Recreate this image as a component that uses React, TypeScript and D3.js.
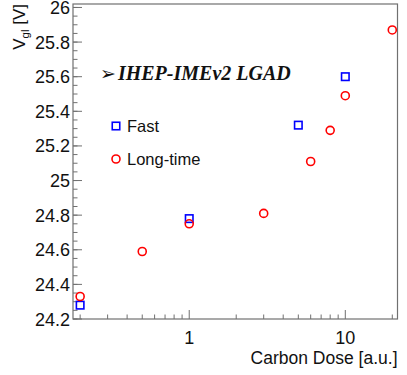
import React, { Component } from "react";
import * as d3 from "d3";

// Fast annealing points
const fastDose = [0.2, 1, 5, 10];
const fastVgl = [24.28, 24.78, 25.32, 25.6];

// Long-time annealing points
const longDose = [0.2, 0.5, 1, 3, 6, 8, 10, 20];
const longVgl = [24.33, 24.59, 24.75, 24.81, 25.11, 25.29, 25.49, 25.87];

const yTicks = [24.2, 24.4, 24.6, 24.8, 25, 25.2, 25.4, 25.6, 25.8, 26];
const xTickLabels = [1, 10];

const seriesNames = ["Fast", "Long-time"];
const chartTitle = "IHEP-IMEv2 LGAD";

export class App extends Component {
  node: SVGSVGElement | null = null;

  componentDidMount() {
    this.drawChart();
  }

  drawChart = () => {
    const svgWidth = 407;
    const svgHeight = 375;
    const margin = { top: 4, right: 9.5, bottom: 56, left: 73 };
    const width = svgWidth - margin.left - margin.right;
    const height = svgHeight - margin.top - margin.bottom;
    const axisColor = "#707070";
    const font = "'Liberation Sans', Arial, Helvetica, sans-serif";

    const svg = d3.select(this.node);
    svg.selectAll("*").remove();

    const x = d3.scaleLog().domain([0.18, 21.6]).range([0, width]);
    const y = d3.scaleLinear().domain([24.2, 26.02]).range([height, 0]);

    const g = svg
      .append("g")
      .attr("transform", "translate(" + margin.left + "," + margin.top + ")");

    // frame
    g.append("rect")
      .attr("x", 0)
      .attr("y", 0)
      .attr("width", width)
      .attr("height", height)
      .attr("fill", "none")
      .attr("stroke", axisColor)
      .attr("stroke-width", 1.2);

    // y ticks, major and minor
    const yMinor = d3.range(24.2, 26.01, 0.05);
    g.selectAll(".ymin")
      .data(yMinor)
      .enter()
      .append("line")
      .attr("x1", 0)
      .attr("x2", 4.5)
      .attr("y1", d => y(d))
      .attr("y2", d => y(d))
      .attr("stroke", axisColor);
    g.selectAll(".ymaj")
      .data(yTicks)
      .enter()
      .append("line")
      .attr("x1", 0)
      .attr("x2", 9)
      .attr("y1", d => y(d))
      .attr("y2", d => y(d))
      .attr("stroke", axisColor);
    g.selectAll(".ylab")
      .data(yTicks)
      .enter()
      .append("text")
      .attr("x", -3)
      .attr("y", d => y(d) + 6.5)
      .attr("text-anchor", "end")
      .attr("font-family", font)
      .attr("font-size", 18)
      .attr("fill", "#111")
      .text(d => d3.format("")(+d.toFixed(1)));

    // x ticks on the log axis
    const xMinor = [0.2, 0.3, 0.4, 0.5, 0.6, 0.7, 0.8, 0.9, 2, 3, 4, 5, 6, 7, 8, 9, 20];
    g.selectAll(".xmin")
      .data(xMinor)
      .enter()
      .append("line")
      .attr("x1", d => x(d))
      .attr("x2", d => x(d))
      .attr("y1", height)
      .attr("y2", height - 4.5)
      .attr("stroke", axisColor);
    g.selectAll(".xmaj")
      .data(xTickLabels)
      .enter()
      .append("line")
      .attr("x1", d => x(d))
      .attr("x2", d => x(d))
      .attr("y1", height)
      .attr("y2", height - 9)
      .attr("stroke", axisColor);
    g.selectAll(".xlab")
      .data(xTickLabels)
      .enter()
      .append("text")
      .attr("x", d => x(d))
      .attr("y", height + 25)
      .attr("text-anchor", "middle")
      .attr("font-family", font)
      .attr("font-size", 18)
      .attr("fill", "#111")
      .text(d => d);

    // axis titles
    g.append("text")
      .attr("x", width)
      .attr("y", height + 45)
      .attr("text-anchor", "end")
      .attr("font-family", font)
      .attr("font-size", 17.5)
      .attr("fill", "#111")
      .text("Carbon Dose [a.u.]");

    const yt = svg
      .append("text")
      .attr("transform", "translate(25,4) rotate(-90)")
      .attr("text-anchor", "end")
      .attr("font-family", font)
      .attr("font-size", 17)
      .attr("fill", "#111");
    yt.append("tspan").text("V");
    yt.append("tspan").attr("dy", 4).attr("font-size", 11.5).text("gl");
    yt.append("tspan").attr("dy", -4).text(" [V]");

    // title
    const tt = g
      .append("text")
      .attr("x", 27)
      .attr("y", 76)
      .attr("font-family", "'Liberation Serif', 'Times New Roman', serif")
      .attr("font-size", 20)
      .attr("font-weight", "bold")
      .attr("font-style", "italic")
      .attr("fill", "#111");
    tt.append("tspan")
      .attr("font-family", "'DejaVu Sans', sans-serif")
      .attr("font-style", "normal")
      .attr("font-weight", "normal")
      .attr("font-size", 19)
      .text("\u27A2");
    tt.append("tspan").attr("dx", 2).text(chartTitle);

    // data markers
    const sq = 7.5;
    g.selectAll(".fast")
      .data(fastDose)
      .enter()
      .append("rect")
      .attr("x", d => x(d) - sq / 2)
      .attr("y", (d, i) => y(fastVgl[i]) - sq / 2)
      .attr("width", sq)
      .attr("height", sq)
      .attr("fill", "none")
      .attr("stroke", "#0000ff")
      .attr("stroke-width", 1.6);

    g.selectAll(".long")
      .data(longDose)
      .enter()
      .append("circle")
      .attr("cx", d => x(d))
      .attr("cy", (d, i) => y(longVgl[i]))
      .attr("r", 4)
      .attr("fill", "none")
      .attr("stroke", "#ff0000")
      .attr("stroke-width", 1.6);

    // legend
    const legX = 43;
    const legY = [122, 155];
    g.append("rect")
      .attr("x", legX - sq / 2)
      .attr("y", legY[0] - sq / 2)
      .attr("width", sq)
      .attr("height", sq)
      .attr("fill", "none")
      .attr("stroke", "#0000ff")
      .attr("stroke-width", 1.6);
    g.append("circle")
      .attr("cx", legX)
      .attr("cy", legY[1])
      .attr("r", 4)
      .attr("fill", "none")
      .attr("stroke", "#ff0000")
      .attr("stroke-width", 1.6);
    g.selectAll(".leg")
      .data(seriesNames)
      .enter()
      .append("text")
      .attr("x", legX + 11)
      .attr("y", (d, i) => legY[i] + 6)
      .attr("font-family", font)
      .attr("font-size", 16.5)
      .attr("fill", "#111")
      .text(d => d);
  };

  render() {
    return (
      <svg
        ref={n => {
          this.node = n;
        }}
        width={407}
        height={375}
        style={{ position: "absolute", left: 0, top: 0, background: "#fff" }}
      />
    );
  }
}

export default App;
